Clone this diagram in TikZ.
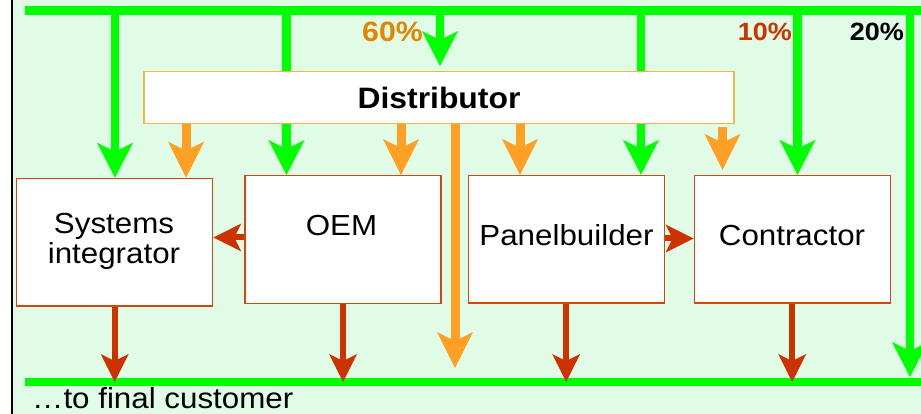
\documentclass[tikz,border=0pt]{standalone}
\usepackage{fontspec}
\setmainfont[FakeStretch=1.08]{Liberation Sans}
\usetikzlibrary{arrows.meta,calc}

\definecolor{bgmint}{RGB}{225,252,230}
\definecolor{busgreen}{RGB}{0,255,0}
\definecolor{supply}{RGB}{255,160,36}
\definecolor{distline}{RGB}{245,180,70}
\definecolor{flowred}{RGB}{204,51,0}
\definecolor{boxline}{RGB}{208,72,16}
\definecolor{pctorange}{RGB}{226,134,0}

\pgfdeclarelayer{back}
\pgfdeclarelayer{wires}
\pgfsetlayers{back,wires,main}

\begin{document}
\begin{tikzpicture}[x=1pt,y=-1pt,
  party/.style={draw=boxline, line width=1.3pt, fill=white,
    minimum width=196pt, minimum height=127.6pt, inner sep=0pt},
  distbox/.style={draw=distline, line width=1.3pt, fill=white,
    minimum width=590pt, minimum height=51.6pt, inner sep=0pt,
    font=\fontsize{29.5}{30}\selectfont\bfseries},
  lbl/.style={inner sep=0pt, align=center,
    font=\fontsize{29}{30}\selectfont},
  pct/.style={inner sep=0pt, font=\bfseries},
  bus/.style={draw=busgreen, line width=9pt},
  greenarr/.style={draw=busgreen, line width=8.5pt,
    -{Stealth[length=35pt,width=36pt,inset=9pt,line width=0pt]}},
  supplyarr/.style={draw=supply, line width=9pt,
    -{Stealth[length=36pt,width=36pt,inset=9pt,line width=0pt]}},
  flowarr/.style={draw=flowred, line width=6pt,
    -{Stealth[length=28pt,width=28pt,inset=7pt,line width=0pt]}}
]
\useasboundingbox (0,0) rectangle (921,414);

% frame and backdrop
\begin{pgfonlayer}{back}
  \fill[white] (0,0) rectangle (921,414);
  \fill[bgmint] (12,0) rectangle (921,414);
  \draw[black, line width=2.5pt] (12.2,0) -- (12.2,414);
\end{pgfonlayer}

% bus ends
\coordinate (topL) at (25,10.5);
\coordinate (topR) at (921,10.5);
\coordinate (botL) at (25,382);
\coordinate (botR) at (921,382);

% parties
\node[distbox] (dist) at (439,97.5) {Distributor};
\node[party] (si)  at (114.7,242.2) {};
\node[party] (oem) at (343,239.5) {};
\node[party] (pb)  at (566.2,239.3) {};
\node[party] (con) at (792.2,239.3) {};

% the base anchor of a two-line label sits on its last line
\node[lbl, anchor=base] (sitxt)  at (114,263) {Systems\\integrator};
\node[lbl, anchor=base] (oemtxt) at (341.5,236) {OEM};
\node[lbl, anchor=base] (pbtxt)  at (566.5,245) {Panelbuilder};
\node[lbl, anchor=base] (contxt) at (792,245) {Contractor};

% shares
\node[pct, text=pctorange, anchor=base west,
  font=\fontsize{28}{30}\selectfont\bfseries] (p60) at (362,41.7) {60\%};
\node[pct, text=flowred, anchor=base east,
  font=\fontsize{25}{30}\selectfont\bfseries] (p10) at (792,40.7) {10\%};
\node[pct, text=black, anchor=base east,
  font=\fontsize{25}{30}\selectfont\bfseries] (p20) at (904,41) {20\%};

\node[lbl, anchor=base west] (final) at (32,408) {…to final customer};

% column positions
\coordinate (gx1) at (115,0);
\coordinate (gx2) at (286.5,0);
\coordinate (gx3) at (440,0);
\coordinate (gx4) at (641,0);
\coordinate (gx5) at (797.5,0);
\coordinate (gx6) at (910,0);
\coordinate (ox1) at (186,0);
\coordinate (ox2) at (401,0);
\coordinate (ox3) at (520,0);
\coordinate (ox4) at (722.5,0);
\coordinate (ox5) at (455,0);
\coordinate (hy1) at (0,237.5);
\coordinate (hy2) at (0,238.5);

\begin{pgfonlayer}{wires}
  % manufacturer supply bus and final customer bus
  \draw[bus] (topL) -- (topR);
  \draw[bus, line width=8.5pt] (botL) -- (botR);

  % direct supply from the manufacturer
  \draw[greenarr] (gx1 |- topL) -- (gx1 |- si.north);
  \draw[greenarr] (gx2 |- topL) -- (gx2 |- oem.north);
  \draw[greenarr] (gx3 |- topL) -- ([yshift=5pt]gx3 |- dist.north);
  \draw[greenarr] (gx4 |- topL) -- (gx4 |- pb.north);
  \draw[greenarr] (gx5 |- topL) -- (gx5 |- con.north);
  \draw[greenarr] (gx6 |- topL) -- ([yshift=5pt]gx6 |- botR);

  % supply through the distributor
  \draw[supplyarr] (ox1 |- dist.south) -- (ox1 |- si.north);
  \draw[supplyarr] (ox2 |- dist.south) -- (ox2 |- oem.north);
  \draw[supplyarr] (ox3 |- dist.south) -- (ox3 |- pb.north);
  \draw[supplyarr] ([yshift=-3pt]ox4 |- dist.south) -- ([yshift=5pt]ox4 |- con.north);
  \draw[supplyarr] (ox5 |- dist.south) -- ([yshift=14pt]ox5 |- botL);

  % flows between parties and on to the customer
  \draw[flowarr] (oem.west |- hy1) -- (si.east |- hy1);
  \draw[flowarr] (pb.east |- hy2) -- (con.west |- hy2);
  \draw[flowarr] (si.south) -- (si.south |- botL);
  \draw[flowarr] (oem.south) -- (oem.south |- botL);
  \draw[flowarr] (pb.south) -- (pb.south |- botL);
  \draw[flowarr] (con.south) -- (con.south |- botL);
\end{pgfonlayer}
\end{tikzpicture}
\end{document}
